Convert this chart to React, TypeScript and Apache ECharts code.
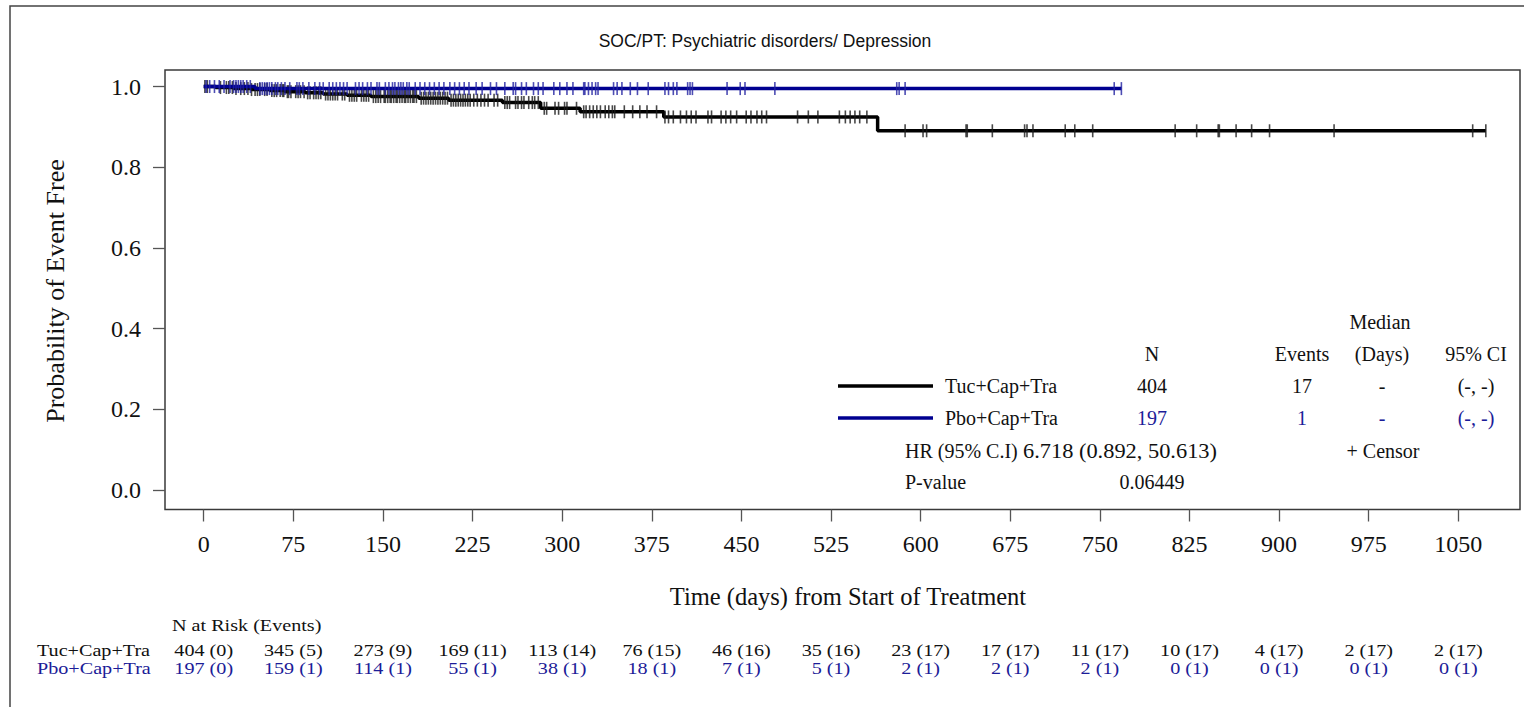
import React, { useEffect, useRef } from 'react';
import * as echarts from 'echarts';

// ---- data ----
const xTicks = [0, 75, 150, 225, 300, 375, 450, 525, 600, 675, 750, 825, 900, 975, 1050];
const yTicks = [0, 0.2, 0.4, 0.6, 0.8, 1.0];

const groupNames = ['Tuc+Cap+Tra', 'Pbo+Cap+Tra'];

// Kaplan-Meier steps: [time (days), survival after the event]
const tucSteps: [number, number][] = [
  [0, 1.0], [10, 0.9975], [25, 0.995], [40, 0.9925], [55, 0.9899], [68, 0.9873],
  [85, 0.9844], [100, 0.9814], [120, 0.9783], [140, 0.9751], [180, 0.9712], [205, 0.9663],
  [250, 0.9603], [282, 0.9461], [315, 0.9375], [385, 0.9247], [564, 0.8904], [1073, 0.8904],
];
const pboSteps: [number, number][] = [
  [0, 1.0], [43, 0.9949], [768, 0.9949],
];

// censor marks (days)
const tucCensor = [
  1, 3, 14, 19, 21, 24, 27, 31, 34, 37, 40, 43, 45, 47, 51, 53, 57, 59, 61, 64, 66, 67, 70, 71, 73,
  77, 79, 81, 84, 87, 89, 92, 94, 96, 98, 102, 104, 106, 108, 110, 112, 116, 118, 122, 124, 126, 128,
  132, 134, 136, 138, 142, 144, 146, 148,
  151, 152, 154, 156, 157, 159, 161, 162, 164, 166, 168, 169, 171, 173, 175, 176, 178, 182, 184, 186,
  188, 190, 192, 194, 196, 198, 200, 202, 204, 207, 209, 211, 213, 215, 217, 219, 221, 223,
  226, 229, 232, 235, 238, 243, 246, 252, 254, 256, 261, 263, 266, 268, 272, 275, 277, 280, 285, 287, 294, 297,
  302, 304, 312, 318, 320, 323, 326, 329, 332, 336, 339, 342, 344, 352, 359, 365, 371,
  379, 386, 389, 393, 399, 404, 408, 412, 422, 425, 433, 437, 441, 446,
  454, 458, 463, 467, 471, 497, 506, 514,
  532, 537, 541, 545, 549, 555, 587,
  602, 605, 638, 639, 660, 687, 689, 694, 721, 729, 744, 813, 831, 849, 850, 864, 877, 892, 946, 1062, 1073,
];
const pboCensor = [
  2, 5, 9, 13, 17, 22, 25, 27, 29, 31, 33, 36, 39, 47, 49, 51, 53, 55, 57, 60, 62, 65, 68, 72,
  78, 80, 83, 88, 93, 97, 100, 105, 108, 111, 114, 117, 120, 127, 130, 133, 137, 140, 145, 147,
  152, 155, 158, 160, 163, 165, 167, 170, 172, 177, 181, 185, 189, 193, 197, 201, 206, 210, 214, 218, 222,
  228, 233, 240, 245, 252, 259, 261, 266, 270, 276, 280, 284, 293, 298,
  304, 309, 318, 319, 322, 325, 328, 330, 343, 346, 350, 357, 363, 372,
  386, 389, 393, 396, 405, 407, 409, 438, 449,
  453, 478, 580, 582, 587, 762, 768,
];

// number at risk (events) at each x tick
const tucAtRisk = ['404 (0)', '345 (5)', '273 (9)', '169 (11)', '113 (14)', '76 (15)', '46 (16)', '35 (16)', '23 (17)', '17 (17)', '11 (17)', '10 (17)', '4 (17)', '2 (17)', '2 (17)'];
const pboAtRisk = ['197 (0)', '159 (1)', '114 (1)', '55 (1)', '38 (1)', '18 (1)', '7 (1)', '5 (1)', '2 (1)', '2 (1)', '2 (1)', '0 (1)', '0 (1)', '0 (1)', '0 (1)'];

// summary table
const statHeader = ['N', 'Events', '(Days)', '95% CI'];
const tucStats = ['404', '17', '-', '(-, -)'];
const pboStats = ['197', '1', '-', '(-, -)'];
const hrText = '6.718 (0.892, 50.613)';
const pValue = '0.06449';

const BLACK = '#000000';
const BLUE = '#000090';
const BLUE_TXT = '#1c1c98';
const SERIF = 'Liberation Serif';

function survAt(steps: [number, number][], t: number) {
  let s = steps[0][1];
  for (const [tt, v] of steps) if (tt <= t) s = v;
  return s;
}

function txt(text: string, x: number, y: number, size: number, color = '#111', align = 'left', family = SERIF, extra: any = {}) {
  return {
    type: 'text',
    x,
    y,
    silent: true,
    ...extra,
    style: {
      text,
      fontSize: size,
      fontFamily: family,
      fill: color,
      align,
      textAlign: align,
      verticalAlign: 'middle',
      textVerticalAlign: 'middle',
      lineHeight: size,
    },
  };
}

export default function App() {
  const ref = useRef<HTMLDivElement>(null);
  useEffect(() => {
    document.body.style.margin = '0';
    const chart = echarts.init(ref.current!, null, { renderer: 'svg' });
    const option: any = {
      animation: false,
      backgroundColor: '#ffffff',
      grid: {
        left: 165, top: 70, right: 4, bottom: 197.5,
        show: true, borderColor: '#3a3a3a', borderWidth: 1.5,
        outerBoundsMode: 'none',
      },
      xAxis: {
        type: 'value', min: -32.4, max: 1101.6,
        axisLine: { show: false, onZero: false },
        splitLine: { show: false },
        axisTick: { show: true, inside: false, length: 12, customValues: xTicks, lineStyle: { color: '#555', width: 1.3 } },
        axisLabel: { customValues: xTicks, fontSize: 24, fontFamily: SERIF, color: '#111', margin: 22, formatter: (v: number) => String(v) },
      },
      yAxis: {
        type: 'value', min: -0.048, max: 1.041,
        axisLine: { show: false, onZero: false },
        splitLine: { show: false },
        axisTick: { show: true, inside: false, length: 12, customValues: yTicks, lineStyle: { color: '#555', width: 1.3 } },
        axisLabel: { customValues: yTicks, fontSize: 24, fontFamily: SERIF, color: '#111', margin: 24, formatter: (v: number) => v.toFixed(1) },
      },
      series: [
        {
          name: groupNames[0], type: 'line', step: 'end', showSymbol: false, silent: true,
          data: tucSteps, lineStyle: { color: BLACK, width: 3.5 }, itemStyle: { color: BLACK }, z: 2,
        },
        {
          name: groupNames[0] + ' censor', type: 'scatter', silent: true, symbol: 'rect', symbolSize: [1.6, 13],
          data: tucCensor.map((t) => [t, survAt(tucSteps, t)]), itemStyle: { color: '#1a1a1a' }, z: 3,
        },
        {
          name: groupNames[1], type: 'line', step: 'end', showSymbol: false, silent: true,
          data: pboSteps, lineStyle: { color: BLUE, width: 3.5 }, itemStyle: { color: BLUE }, z: 4,
        },
        {
          name: groupNames[1] + ' censor', type: 'scatter', silent: true, symbol: 'rect', symbolSize: [1.6, 13],
          data: pboCensor.map((t) => [t, survAt(pboSteps, t)]), itemStyle: { color: '#2020a0' }, z: 5,
        },
      ],
    };
    chart.setOption(option);

    const px = (d: number) => chart.convertToPixel({ xAxisIndex: 0 }, d) as number;
    const g: any[] = [];
    // outer frame (top & left)
    g.push({ type: 'polyline', silent: true, shape: { points: [[10, 707], [10, 6], [1524, 6]] }, style: { stroke: '#444', lineWidth: 1.5, fill: null } });
    // title
    g.push(txt('SOC/PT: Psychiatric disorders/ Depression', 765, 41, 17.5, '#111', 'center', 'Liberation Sans'));
    // axis titles
    g.push(txt('Probability of Event Free', 55, 291, 26, '#111', 'center', SERIF, { rotation: Math.PI / 2 }));
    g.push(txt('Time (days) from Start of Treatment', 848, 596, 24.5, '#111', 'center'));

    // summary table
    const FS = 20;
    const colX = [1152, 1302, 1382, 1476];
    g.push(txt('Median', 1380, 322, FS, '#111', 'center'));
    statHeader.forEach((h, i) => g.push(txt(h, colX[i], 354, FS, '#111', 'center')));
    g.push({ type: 'line', silent: true, shape: { x1: 838, y1: 386, x2: 933, y2: 386 }, style: { stroke: BLACK, lineWidth: 3.5 } });
    g.push({ type: 'line', silent: true, shape: { x1: 838, y1: 418, x2: 933, y2: 418 }, style: { stroke: BLUE, lineWidth: 3.5 } });
    g.push(txt(groupNames[0], 945, 386, FS, '#111'));
    g.push(txt(groupNames[1], 945, 418, FS, '#111'));
    tucStats.forEach((s, i) => g.push(txt(s, colX[i], 386, FS, '#111', 'center')));
    pboStats.forEach((s, i) => g.push(txt(s, colX[i], 418, FS, BLUE_TXT, 'center')));
    g.push(txt('HR (95% C.I)', 905, 451, FS, '#111'));
    g.push(txt(hrText, 1023, 451, FS, '#111', 'left', SERIF, { scaleX: 1.12 }));
    g.push(txt('+ Censor', 1383, 451, FS, '#111', 'center'));
    g.push(txt('P-value', 905, 482, FS, '#111'));
    g.push(txt(pValue, 1152, 482, FS, '#111', 'center'));

    // at-risk table
    const AS = 16;
    const SX = 1.26;
    g.push(txt('N at Risk (Events)', 172, 626, AS, '#111', 'left', SERIF, { scaleX: SX }));
    g.push(txt(groupNames[0], 37, 651, AS, '#111', 'left', SERIF, { scaleX: SX }));
    g.push(txt(groupNames[1], 37, 669, AS, BLUE_TXT, 'left', SERIF, { scaleX: SX }));
    xTicks.forEach((t, i) => {
      const x = px(t);
      g.push(txt(tucAtRisk[i], x, 651, AS, '#111', 'center', SERIF, { scaleX: SX }));
      g.push(txt(pboAtRisk[i], x, 669, AS, BLUE_TXT, 'center', SERIF, { scaleX: SX }));
    });
    chart.setOption({ graphic: g });

    return () => chart.dispose();
  }, []);
  return <div ref={ref} style={{ width: 1524, height: 707 }} />;
}
